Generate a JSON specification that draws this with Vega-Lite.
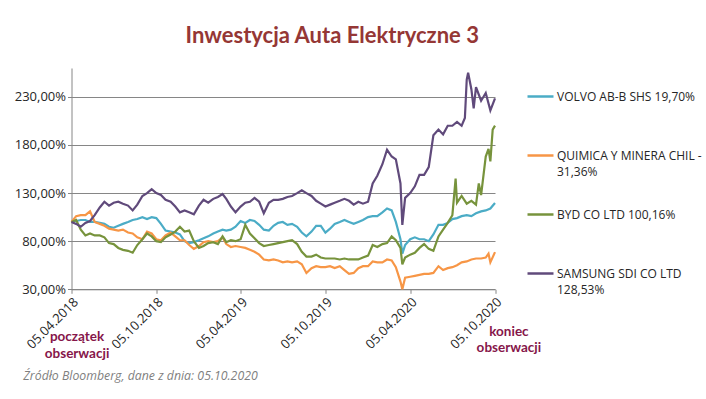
{
  "$schema": "https://vega.github.io/schema/vega-lite/v6.json",
  "width": 423.5,
  "height": 221.3,
  "autosize": {"type": "none"},
  "padding": {"left": 71.5, "top": 68, "right": 211, "bottom": 109.7},
  "background": "white",
  "config": {"view": {"stroke": null}, "font": "Open Sans", "style": {"guide-label": {"lineHeight": 16}}},
  "title": {"text": "Inwestycja Auta Elektryczne 3", "color": "#953735", "font": "Lato", "fontSize": 22, "fontWeight": "bold", "anchor": "middle", "frame": "group", "dx": 49, "offset": 20},
  "layer": [
    {
      "data": {"values": [
        {"d":"2018-04-05","s":"V","v":100},{"d":"2018-04-15","s":"V","v":101},{"d":"2018-04-25","s":"V","v":102},{"d":"2018-05-05","s":"V","v":102},{"d":"2018-05-15","s":"V","v":100},{"d":"2018-05-25","s":"V","v":100},{"d":"2018-06-05","s":"V","v":99},{"d":"2018-06-15","s":"V","v":98},{"d":"2018-06-25","s":"V","v":95},{"d":"2018-07-05","s":"V","v":94},{"d":"2018-07-15","s":"V","v":96},{"d":"2018-07-25","s":"V","v":98},{"d":"2018-08-05","s":"V","v":100},{"d":"2018-08-15","s":"V","v":102},{"d":"2018-08-25","s":"V","v":103},{"d":"2018-09-05","s":"V","v":105},{"d":"2018-09-15","s":"V","v":103},{"d":"2018-09-25","s":"V","v":105},{"d":"2018-10-05","s":"V","v":104},{"d":"2018-10-15","s":"V","v":98},{"d":"2018-10-25","s":"V","v":91},{"d":"2018-11-05","s":"V","v":90},{"d":"2018-11-15","s":"V","v":89},{"d":"2018-11-25","s":"V","v":87},{"d":"2018-12-05","s":"V","v":80},{"d":"2018-12-15","s":"V","v":78},{"d":"2018-12-25","s":"V","v":79},{"d":"2019-01-05","s":"V","v":81},{"d":"2019-01-15","s":"V","v":83},{"d":"2019-01-25","s":"V","v":85},{"d":"2019-02-05","s":"V","v":88},{"d":"2019-02-15","s":"V","v":90},{"d":"2019-02-25","s":"V","v":92},{"d":"2019-03-05","s":"V","v":91},{"d":"2019-03-15","s":"V","v":92},{"d":"2019-03-25","s":"V","v":95},{"d":"2019-04-05","s":"V","v":101},{"d":"2019-04-15","s":"V","v":99},{"d":"2019-04-25","s":"V","v":102},{"d":"2019-05-05","s":"V","v":101},{"d":"2019-05-15","s":"V","v":97},{"d":"2019-05-25","s":"V","v":92},{"d":"2019-06-05","s":"V","v":91},{"d":"2019-06-15","s":"V","v":96},{"d":"2019-06-25","s":"V","v":99},{"d":"2019-07-05","s":"V","v":100},{"d":"2019-07-15","s":"V","v":97},{"d":"2019-07-25","s":"V","v":98},{"d":"2019-08-05","s":"V","v":95},{"d":"2019-08-15","s":"V","v":89},{"d":"2019-08-25","s":"V","v":85},{"d":"2019-09-05","s":"V","v":90},{"d":"2019-09-15","s":"V","v":96},{"d":"2019-09-25","s":"V","v":96},{"d":"2019-10-05","s":"V","v":89},{"d":"2019-10-15","s":"V","v":93},{"d":"2019-10-25","s":"V","v":98},{"d":"2019-11-05","s":"V","v":100},{"d":"2019-11-15","s":"V","v":102},{"d":"2019-11-25","s":"V","v":100},{"d":"2019-12-05","s":"V","v":98},{"d":"2019-12-15","s":"V","v":100},{"d":"2019-12-25","s":"V","v":102},{"d":"2020-01-05","s":"V","v":105},{"d":"2020-01-15","s":"V","v":106},{"d":"2020-01-25","s":"V","v":106},{"d":"2020-02-05","s":"V","v":110},{"d":"2020-02-15","s":"V","v":114},{"d":"2020-02-25","s":"V","v":112},{"d":"2020-03-05","s":"V","v":100},{"d":"2020-03-15","s":"V","v":82},{"d":"2020-03-19","s":"V","v":67},{"d":"2020-03-25","s":"V","v":76},{"d":"2020-04-05","s":"V","v":82},{"d":"2020-04-15","s":"V","v":84},{"d":"2020-04-25","s":"V","v":82},{"d":"2020-05-05","s":"V","v":82},{"d":"2020-05-15","s":"V","v":80},{"d":"2020-05-25","s":"V","v":87},{"d":"2020-06-05","s":"V","v":97},{"d":"2020-06-15","s":"V","v":97},{"d":"2020-06-25","s":"V","v":99},{"d":"2020-07-05","s":"V","v":103},{"d":"2020-07-15","s":"V","v":104},{"d":"2020-07-25","s":"V","v":106},{"d":"2020-08-05","s":"V","v":107},{"d":"2020-08-15","s":"V","v":106},{"d":"2020-08-25","s":"V","v":109},{"d":"2020-09-05","s":"V","v":111},{"d":"2020-09-15","s":"V","v":112},{"d":"2020-09-25","s":"V","v":114},{"d":"2020-10-05","s":"V","v":119.7},
        {"d":"2018-04-05","s":"Q","v":100},{"d":"2018-04-15","s":"Q","v":106},{"d":"2018-04-25","s":"Q","v":107},{"d":"2018-05-05","s":"Q","v":107},{"d":"2018-05-15","s":"Q","v":111},{"d":"2018-05-25","s":"Q","v":100},{"d":"2018-06-05","s":"Q","v":98},{"d":"2018-06-15","s":"Q","v":96},{"d":"2018-06-25","s":"Q","v":93},{"d":"2018-07-05","s":"Q","v":92},{"d":"2018-07-15","s":"Q","v":91},{"d":"2018-07-25","s":"Q","v":92},{"d":"2018-08-05","s":"Q","v":89},{"d":"2018-08-15","s":"Q","v":88},{"d":"2018-08-25","s":"Q","v":84},{"d":"2018-09-05","s":"Q","v":82},{"d":"2018-09-15","s":"Q","v":90},{"d":"2018-09-25","s":"Q","v":88},{"d":"2018-10-05","s":"Q","v":82},{"d":"2018-10-15","s":"Q","v":81},{"d":"2018-10-25","s":"Q","v":86},{"d":"2018-11-05","s":"Q","v":89},{"d":"2018-11-15","s":"Q","v":85},{"d":"2018-11-25","s":"Q","v":81},{"d":"2018-12-05","s":"Q","v":81},{"d":"2018-12-15","s":"Q","v":76},{"d":"2018-12-25","s":"Q","v":72},{"d":"2019-01-05","s":"Q","v":75},{"d":"2019-01-15","s":"Q","v":79},{"d":"2019-01-25","s":"Q","v":80},{"d":"2019-02-05","s":"Q","v":79},{"d":"2019-02-15","s":"Q","v":80},{"d":"2019-02-25","s":"Q","v":84},{"d":"2019-03-05","s":"Q","v":77},{"d":"2019-03-15","s":"Q","v":74},{"d":"2019-03-25","s":"Q","v":75},{"d":"2019-04-05","s":"Q","v":74},{"d":"2019-04-15","s":"Q","v":73},{"d":"2019-04-25","s":"Q","v":71},{"d":"2019-05-05","s":"Q","v":69},{"d":"2019-05-15","s":"Q","v":66},{"d":"2019-05-25","s":"Q","v":61},{"d":"2019-06-05","s":"Q","v":60},{"d":"2019-06-15","s":"Q","v":61},{"d":"2019-06-25","s":"Q","v":60},{"d":"2019-07-05","s":"Q","v":58},{"d":"2019-07-15","s":"Q","v":59},{"d":"2019-07-25","s":"Q","v":58},{"d":"2019-08-05","s":"Q","v":59},{"d":"2019-08-15","s":"Q","v":56},{"d":"2019-08-25","s":"Q","v":47},{"d":"2019-09-05","s":"Q","v":52},{"d":"2019-09-15","s":"Q","v":54},{"d":"2019-09-25","s":"Q","v":53},{"d":"2019-10-05","s":"Q","v":53},{"d":"2019-10-15","s":"Q","v":54},{"d":"2019-10-25","s":"Q","v":52},{"d":"2019-11-05","s":"Q","v":54},{"d":"2019-11-15","s":"Q","v":50},{"d":"2019-11-25","s":"Q","v":46},{"d":"2019-12-05","s":"Q","v":47},{"d":"2019-12-15","s":"Q","v":52},{"d":"2019-12-25","s":"Q","v":54},{"d":"2020-01-05","s":"Q","v":54},{"d":"2020-01-15","s":"Q","v":59},{"d":"2020-01-25","s":"Q","v":58},{"d":"2020-02-05","s":"Q","v":58},{"d":"2020-02-15","s":"Q","v":61},{"d":"2020-02-25","s":"Q","v":60},{"d":"2020-03-05","s":"Q","v":53},{"d":"2020-03-15","s":"Q","v":38},{"d":"2020-03-19","s":"Q","v":30},{"d":"2020-03-25","s":"Q","v":42},{"d":"2020-04-05","s":"Q","v":43},{"d":"2020-04-15","s":"Q","v":44},{"d":"2020-04-25","s":"Q","v":45},{"d":"2020-05-05","s":"Q","v":46},{"d":"2020-05-15","s":"Q","v":46},{"d":"2020-05-25","s":"Q","v":47},{"d":"2020-06-05","s":"Q","v":54},{"d":"2020-06-15","s":"Q","v":50},{"d":"2020-06-25","s":"Q","v":52},{"d":"2020-07-05","s":"Q","v":53},{"d":"2020-07-15","s":"Q","v":55},{"d":"2020-07-25","s":"Q","v":58},{"d":"2020-08-05","s":"Q","v":59},{"d":"2020-08-15","s":"Q","v":61},{"d":"2020-08-25","s":"Q","v":62},{"d":"2020-09-05","s":"Q","v":62},{"d":"2020-09-15","s":"Q","v":63},{"d":"2020-09-21","s":"Q","v":67},{"d":"2020-09-25","s":"Q","v":58},{"d":"2020-10-05","s":"Q","v":68.64},
        {"d":"2018-04-05","s":"B","v":100},{"d":"2018-04-15","s":"B","v":102},{"d":"2018-04-25","s":"B","v":92},{"d":"2018-05-05","s":"B","v":86},{"d":"2018-05-15","s":"B","v":88},{"d":"2018-05-25","s":"B","v":86},{"d":"2018-06-05","s":"B","v":86},{"d":"2018-06-15","s":"B","v":84},{"d":"2018-06-25","s":"B","v":78},{"d":"2018-07-05","s":"B","v":77},{"d":"2018-07-15","s":"B","v":73},{"d":"2018-07-25","s":"B","v":71},{"d":"2018-08-05","s":"B","v":70},{"d":"2018-08-15","s":"B","v":68},{"d":"2018-08-25","s":"B","v":76},{"d":"2018-09-05","s":"B","v":82},{"d":"2018-09-15","s":"B","v":88},{"d":"2018-09-25","s":"B","v":85},{"d":"2018-10-05","s":"B","v":80},{"d":"2018-10-15","s":"B","v":79},{"d":"2018-10-25","s":"B","v":84},{"d":"2018-11-05","s":"B","v":87},{"d":"2018-11-15","s":"B","v":90},{"d":"2018-11-25","s":"B","v":95},{"d":"2018-12-05","s":"B","v":90},{"d":"2018-12-15","s":"B","v":91},{"d":"2018-12-25","s":"B","v":80},{"d":"2019-01-05","s":"B","v":73},{"d":"2019-01-15","s":"B","v":75},{"d":"2019-01-25","s":"B","v":78},{"d":"2019-02-05","s":"B","v":79},{"d":"2019-02-15","s":"B","v":77},{"d":"2019-02-25","s":"B","v":85},{"d":"2019-03-05","s":"B","v":79},{"d":"2019-03-15","s":"B","v":81},{"d":"2019-03-25","s":"B","v":80},{"d":"2019-04-05","s":"B","v":82},{"d":"2019-04-15","s":"B","v":97},{"d":"2019-04-25","s":"B","v":88},{"d":"2019-05-05","s":"B","v":83},{"d":"2019-05-15","s":"B","v":78},{"d":"2019-05-25","s":"B","v":75},{"d":"2019-06-05","s":"B","v":76},{"d":"2019-06-15","s":"B","v":77},{"d":"2019-06-25","s":"B","v":78},{"d":"2019-07-05","s":"B","v":79},{"d":"2019-07-15","s":"B","v":80},{"d":"2019-07-25","s":"B","v":81},{"d":"2019-08-05","s":"B","v":77},{"d":"2019-08-15","s":"B","v":69},{"d":"2019-08-25","s":"B","v":64},{"d":"2019-09-05","s":"B","v":64},{"d":"2019-09-15","s":"B","v":66},{"d":"2019-09-25","s":"B","v":63},{"d":"2019-10-05","s":"B","v":62},{"d":"2019-10-15","s":"B","v":62},{"d":"2019-10-25","s":"B","v":62},{"d":"2019-11-05","s":"B","v":61},{"d":"2019-11-15","s":"B","v":62},{"d":"2019-11-25","s":"B","v":61},{"d":"2019-12-05","s":"B","v":61},{"d":"2019-12-15","s":"B","v":61},{"d":"2019-12-25","s":"B","v":63},{"d":"2020-01-05","s":"B","v":65},{"d":"2020-01-15","s":"B","v":76},{"d":"2020-01-25","s":"B","v":74},{"d":"2020-02-05","s":"B","v":77},{"d":"2020-02-15","s":"B","v":78},{"d":"2020-02-25","s":"B","v":85},{"d":"2020-03-05","s":"B","v":81},{"d":"2020-03-15","s":"B","v":73},{"d":"2020-03-19","s":"B","v":56},{"d":"2020-03-25","s":"B","v":63},{"d":"2020-04-05","s":"B","v":66},{"d":"2020-04-15","s":"B","v":68},{"d":"2020-04-25","s":"B","v":73},{"d":"2020-05-05","s":"B","v":77},{"d":"2020-05-15","s":"B","v":72},{"d":"2020-05-25","s":"B","v":70},{"d":"2020-06-05","s":"B","v":85},{"d":"2020-06-15","s":"B","v":92},{"d":"2020-06-25","s":"B","v":99},{"d":"2020-07-05","s":"B","v":107},{"d":"2020-07-12","s":"B","v":145},{"d":"2020-07-15","s":"B","v":120},{"d":"2020-07-25","s":"B","v":127},{"d":"2020-08-05","s":"B","v":119},{"d":"2020-08-15","s":"B","v":122},{"d":"2020-08-25","s":"B","v":118},{"d":"2020-08-31","s":"B","v":140},{"d":"2020-09-05","s":"B","v":128},{"d":"2020-09-15","s":"B","v":168},{"d":"2020-09-21","s":"B","v":176},{"d":"2020-09-25","s":"B","v":163},{"d":"2020-09-30","s":"B","v":196},{"d":"2020-10-05","s":"B","v":200.16},
        {"d":"2018-04-05","s":"S","v":100},{"d":"2018-04-15","s":"S","v":98},{"d":"2018-04-25","s":"S","v":95},{"d":"2018-05-05","s":"S","v":99},{"d":"2018-05-15","s":"S","v":101},{"d":"2018-05-25","s":"S","v":107},{"d":"2018-06-05","s":"S","v":115},{"d":"2018-06-15","s":"S","v":121},{"d":"2018-06-25","s":"S","v":117},{"d":"2018-07-05","s":"S","v":120},{"d":"2018-07-15","s":"S","v":121},{"d":"2018-07-25","s":"S","v":119},{"d":"2018-08-05","s":"S","v":117},{"d":"2018-08-15","s":"S","v":112},{"d":"2018-08-25","s":"S","v":118},{"d":"2018-09-05","s":"S","v":127},{"d":"2018-09-15","s":"S","v":130},{"d":"2018-09-25","s":"S","v":134},{"d":"2018-10-05","s":"S","v":130},{"d":"2018-10-15","s":"S","v":128},{"d":"2018-10-25","s":"S","v":123},{"d":"2018-11-05","s":"S","v":121},{"d":"2018-11-15","s":"S","v":116},{"d":"2018-11-25","s":"S","v":110},{"d":"2018-12-05","s":"S","v":112},{"d":"2018-12-15","s":"S","v":110},{"d":"2018-12-25","s":"S","v":108},{"d":"2019-01-05","s":"S","v":117},{"d":"2019-01-15","s":"S","v":123},{"d":"2019-01-25","s":"S","v":120},{"d":"2019-02-05","s":"S","v":124},{"d":"2019-02-15","s":"S","v":126},{"d":"2019-02-25","s":"S","v":129},{"d":"2019-03-05","s":"S","v":124},{"d":"2019-03-15","s":"S","v":116},{"d":"2019-03-25","s":"S","v":110},{"d":"2019-04-05","s":"S","v":116},{"d":"2019-04-15","s":"S","v":120},{"d":"2019-04-25","s":"S","v":121},{"d":"2019-05-05","s":"S","v":125},{"d":"2019-05-15","s":"S","v":121},{"d":"2019-05-25","s":"S","v":109},{"d":"2019-06-05","s":"S","v":120},{"d":"2019-06-15","s":"S","v":123},{"d":"2019-06-25","s":"S","v":123},{"d":"2019-07-05","s":"S","v":124},{"d":"2019-07-15","s":"S","v":126},{"d":"2019-07-25","s":"S","v":127},{"d":"2019-08-05","s":"S","v":130},{"d":"2019-08-15","s":"S","v":133},{"d":"2019-08-25","s":"S","v":130},{"d":"2019-09-05","s":"S","v":127},{"d":"2019-09-15","s":"S","v":122},{"d":"2019-09-25","s":"S","v":119},{"d":"2019-10-05","s":"S","v":116},{"d":"2019-10-15","s":"S","v":118},{"d":"2019-10-25","s":"S","v":120},{"d":"2019-11-05","s":"S","v":122},{"d":"2019-11-15","s":"S","v":124},{"d":"2019-11-25","s":"S","v":122},{"d":"2019-12-05","s":"S","v":118},{"d":"2019-12-15","s":"S","v":121},{"d":"2019-12-25","s":"S","v":119},{"d":"2020-01-05","s":"S","v":121},{"d":"2020-01-15","s":"S","v":140},{"d":"2020-01-25","s":"S","v":148},{"d":"2020-02-05","s":"S","v":160},{"d":"2020-02-15","s":"S","v":175},{"d":"2020-02-25","s":"S","v":168},{"d":"2020-03-05","s":"S","v":165},{"d":"2020-03-15","s":"S","v":140},{"d":"2020-03-19","s":"S","v":97},{"d":"2020-03-25","s":"S","v":125},{"d":"2020-04-05","s":"S","v":130},{"d":"2020-04-15","s":"S","v":137},{"d":"2020-04-25","s":"S","v":149},{"d":"2020-05-05","s":"S","v":149},{"d":"2020-05-15","s":"S","v":157},{"d":"2020-05-25","s":"S","v":190},{"d":"2020-06-05","s":"S","v":196},{"d":"2020-06-15","s":"S","v":191},{"d":"2020-06-25","s":"S","v":200},{"d":"2020-07-05","s":"S","v":200},{"d":"2020-07-15","s":"S","v":204},{"d":"2020-07-25","s":"S","v":200},{"d":"2020-08-01","s":"S","v":208},{"d":"2020-08-05","s":"S","v":248},{"d":"2020-08-08","s":"S","v":255},{"d":"2020-08-15","s":"S","v":238},{"d":"2020-08-20","s":"S","v":218},{"d":"2020-08-25","s":"S","v":240},{"d":"2020-09-05","s":"S","v":226},{"d":"2020-09-15","s":"S","v":234},{"d":"2020-09-25","s":"S","v":216},{"d":"2020-10-05","s":"S","v":228.53}
      ]},
      "mark": {"type": "line", "strokeWidth": 2.2},
      "encoding": {
        "x": {
          "field": "d", "type": "temporal",
          "scale": {"domain": [{"year": 2018, "month": 4, "date": 5}, {"year": 2020, "month": 10, "date": 5}]},
          "axis": {
            "values": [{"year": 2018, "month": 4, "date": 5}, {"year": 2018, "month": 10, "date": 5}, {"year": 2019, "month": 4, "date": 5}, {"year": 2019, "month": 10, "date": 5}, {"year": 2020, "month": 4, "date": 5}, {"year": 2020, "month": 10, "date": 5}],
            "format": "%d.%m.%Y", "labelAngle": -45, "labelFontSize": 13, "labelColor": "#262626", "labelFont": "Open Sans",
            "grid": false, "domainColor": "#868686", "tickColor": "#868686", "tickSize": 4, "title": null,
            "labelPadding": 2, "labelOverlap": false, "labelBound": false, "labelFlush": false
          }
        },
        "y": {
          "field": "v", "type": "quantitative",
          "scale": {"domain": [30, 260], "nice": false, "zero": false},
          "axis": {
            "values": [30, 80, 130, 180, 230],
            "labelExpr": "replace(format(datum.value, '.2f'), '.', ',') + '%'",
            "grid": true, "gridColor": "#868686", "domainColor": "#868686", "tickColor": "#868686", "tickSize": 4,
            "title": null, "labelFontSize": 13, "labelColor": "#262626", "labelFont": "Open Sans", "labelPadding": 2
          }
        },
        "color": {
          "field": "s", "type": "nominal",
          "scale": {"domain": ["V", "Q", "B", "S"], "range": ["#4BACC6", "#F79646", "#77933C", "#604A7B"]},
          "legend": {
            "orient": "none", "legendX": 454.5, "legendY": 14, "title": null, "padding": 0,
            "symbolType": "stroke", "symbolSize": 676, "symbolStrokeWidth": 2.5,
            "labelFontSize": 12, "labelColor": "#262626", "labelFont": "Open Sans", "labelLimit": 300, "labelOffset": 2,
            "gridAlign": "all", "rowPadding": 22,
            "labelExpr": "datum.label == 'V' ? 'VOLVO AB-B SHS 19,70%' : datum.label == 'Q' ? ['QUIMICA Y MINERA CHIL -', '31,36%'] : datum.label == 'B' ? 'BYD CO LTD 100,16%' : ['SAMSUNG SDI CO LTD', '128,53%']"
          }
        }
      }
    },
    {
      "data": {"values": [{}]},
      "mark": {"type": "text", "font": "Lato", "fontSize": 13.5, "fontWeight": "bold", "color": "#86164A", "align": "center", "baseline": "middle", "lineHeight": 16.5},
      "encoding": {
        "x": {"datum": {"year": 2018, "month": 4, "date": 17}},
        "y": {"datum": -19.7},
        "text": {"value": ["początek", "obserwacji"]}
      }
    },
    {
      "data": {"values": [{}]},
      "mark": {"type": "text", "font": "Lato", "fontSize": 13.5, "fontWeight": "bold", "color": "#86164A", "align": "center", "baseline": "middle", "lineHeight": 16.5},
      "encoding": {
        "x": {"datum": {"year": 2020, "month": 11, "date": 4}},
        "y": {"datum": -14},
        "text": {"value": ["koniec", "obserwacji"]}
      }
    },
    {
      "data": {"values": [{}]},
      "mark": {"type": "text", "font": "Open Sans", "fontSize": 12.3, "fontStyle": "italic", "color": "#7F7F7F", "align": "left", "baseline": "middle"},
      "encoding": {
        "x": {"datum": {"year": 2017, "month": 12, "date": 22}},
        "y": {"datum": -60.5},
        "text": {"value": "Źródło Bloomberg, dane z dnia: 05.10.2020"}
      }
    }
  ]
}
